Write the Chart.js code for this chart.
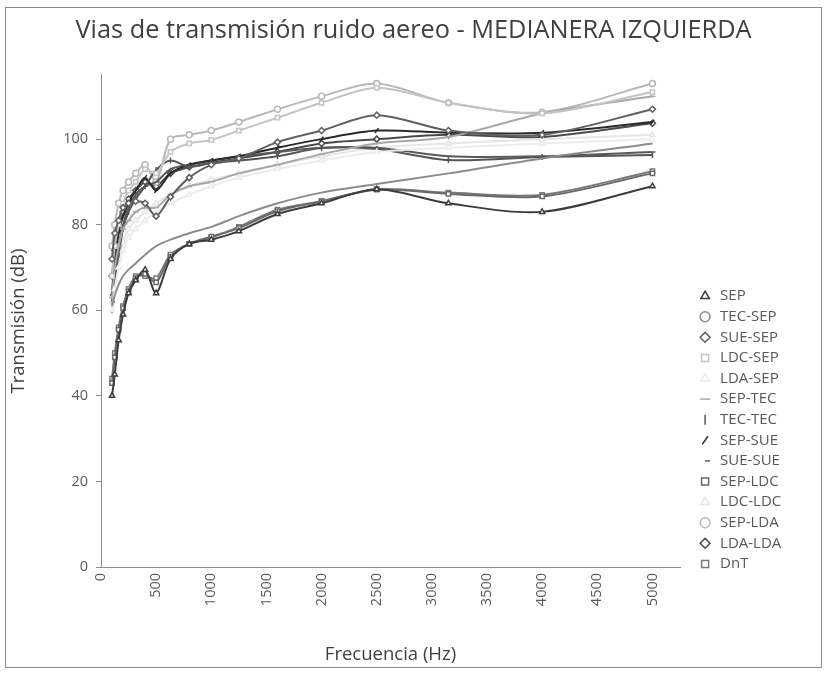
<!DOCTYPE html>
<html><head><meta charset="utf-8">
<script src="https://cdn.jsdelivr.net/npm/chart.js@4/dist/chart.umd.min.js"></script>
<style>html,body{margin:0;padding:0;background:#fff}</style>
</head><body>
<canvas id="c" width="833" height="674"></canvas>
<script>
// ---- data ----
const freqs = [100,125,160,200,250,315,400,500,630,800,1000,1250,1600,2000,2500,3150,4000,5000];
const xTicks = [0,500,1000,1500,2000,2500,3000,3500,4000,4500,5000];
const yTicks = [0,20,40,60,80,100];
const seriesNames = ['SEP','TEC-SEP','SUE-SEP','LDC-SEP','LDA-SEP','SEP-TEC','TEC-TEC','SEP-SUE','SUE-SUE','SEP-LDC','LDC-LDC','SEP-LDA','LDA-LDA','DnT'];
const sep    = [40,45,53,59,64,67,69.5,64,72,75.5,76.5,78.5,82.5,85,88.3,85,83,89];
const tecSep = [61,63.5,66,68,69.5,71,73,75,76.5,78,79.5,82,85,87.5,89.5,92,95.5,99];
const sueSep = [72,78,81,84,85,85.5,85,82,86.5,91,94,95.5,99.3,102,105.6,102,101,107];
const ldcSep = [68,75,80,85,88,90,93,92,97,99,99.8,102,105,108.5,112,108.5,106,111];
const ldaSep = [60,65,70,74,77,79,81,83,85,87,89,91,93,95,97,98,99,100];
const sepTec = [63,70,75,79,81,83,84,84,87,89,90,92,94,96.5,99,100.5,106,110];
const tecTec = [60,67,73,79,83,86,89,92.8,95,93.5,94.4,95,96,97.9,97.7,95.1,95.8,96.3];
const sepSue = [64,72,78,82,85,88,91,88,92,94,95,96,98,100,102,101.5,101.5,104];
const sueSue = [62,69,75,80,84,87,89,90,93,94,95,96,97,98,98,96,96,97];
const sepLdc = [43,49,55.5,60.5,64.5,67.5,68.5,66.5,72.5,75.5,77.2,79.2,83.2,85.5,88.2,87.2,86.6,92];
const ldcLdc = [62,67,72,76,79,81,83,85,87,89,90.5,92,94,96,98,99,100,101];
const sepLda = [75,80,85,88,90,92,94,90,100,101,102,104,107,110,113,108.5,106.3,113];
const ldaLda = [68,74,79,83,86,88,90,89,92,93.5,94.5,95.5,97,99,100,101,100.5,103.7];
const dnt    = [44,50,56,61,65,68,68,67.5,73,75.5,77,79.5,83.5,85.5,88.3,87.5,87,92.5];

const seriesValues = [sep,tecSep,sueSep,ldcSep,ldaSep,sepTec,tecTec,sepSue,sueSue,sepLdc,ldcLdc,sepLda,ldaLda,dnt];
const seriesColors = ['#3c3c3c','#8c8c8c','#606060','#c4c4c4','#ececec','#a8a8a8','#555555','#2a2a2a','#5a5a5a','#6a6a6a','#e6e6e6','#b8b8b8','#4a4a4a','#7a7a7a'];
const seriesMarkers = ['triangle','circle','rectRot','rect','triangle','line','line','line','dash','rect','triangle','circle','rectRot','rect'];
const seriesMarkerRot = [0,0,0,0,0,0,90,-55,0,0,0,0,0,0];
const seriesMarkerSize = [3,0,3,3,3,3,3,3,3,3,3,3,3,3];

const FONT = '"Open Sans", "Noto Sans", sans-serif';
const datasets = seriesNames.map((name, i) => ({
  label: name,
  data: freqs.map((f, j) => ({x: f, y: seriesValues[i][j]})),
  borderColor: seriesColors[i],
  backgroundColor: '#ffffff',
  pointBackgroundColor: '#ffffff',
  pointBorderColor: seriesColors[i],
  pointStyle: seriesMarkers[i],
  pointRotation: seriesMarkerRot[i],
  pointRadius: seriesMarkerSize[i],
  pointBorderWidth: 1.5,
  borderWidth: 2,
  tension: 0.3,
  fill: false
}));

const frame = {
  id: 'frame',
  beforeDraw(chart) {
    const ctx = chart.ctx;
    ctx.save();
    ctx.fillStyle = '#fff';
    ctx.fillRect(0, 0, chart.width, chart.height);
    ctx.strokeStyle = '#8a8a8a';
    ctx.lineWidth = 1;
    ctx.strokeRect(5.5, 7.5, 816, 660);
    ctx.restore();
  }
};
const legendPlace = {
  id: 'legendPlace',
  afterInit(chart) {
    const lg = chart.legend;
    const orig = lg.fit.bind(lg);
    lg.fit = function () { orig(); this.width = 141; };
  },
  afterLayout(chart) {
    const lg = chart.legend;
    lg.left = 692; lg.right = 821;
    lg.top = 283; lg.bottom = 600;
  }
};
const xLabels = {
  id: 'xLabels',
  afterDraw(chart) {
    const xs = chart.scales.x, ctx = chart.ctx;
    ctx.save();
    ctx.font = '14.5px ' + FONT;
    ctx.fillStyle = '#595959';
    ctx.textAlign = 'right';
    ctx.textBaseline = 'middle';
    xTicks.forEach(v => {
      const px = xs.getPixelForValue(v);
      ctx.save();
      ctx.translate(px, xs.top + 6);
      ctx.rotate(-Math.PI / 2);
      ctx.fillText(String(v), 0, 0);
      ctx.restore();
    });
    ctx.restore();
  }
};

new Chart(document.getElementById('c'), {
  type: 'line',
  data: {datasets},
  plugins: [frame, legendPlace, xLabels],
  options: {
    responsive: false,
    devicePixelRatio: 1,
    animation: false,
    layout: {padding: {left: 6, right: 12, top: 6, bottom: 8}},
    plugins: {
      title: {
        display: true,
        text: 'Vias de transmisión ruido aereo - MEDIANERA IZQUIERDA',
        color: '#404040',
        font: {family: FONT, size: 25.3, weight: 'normal'},
        padding: {top: 9.5, bottom: 29.1}
      },
      legend: {
        position: 'right',
        align: 'start',
        fullSize: false,
        labels: {
          usePointStyle: true,
          boxHeight: 7,
          color: '#595959',
          font: {family: FONT, size: 15},
          padding: 5.6
        }
      },
      tooltip: {enabled: false}
    },
    scales: {
      x: {
        type: 'linear',
        min: 0, max: 5250,
        afterBuildTicks: s => { s.ticks = xTicks.map(v => ({value: v})); },
        afterFit: s => { s.height = 99; },
        ticks: {display: false},
        grid: {display: false},
        border: {display: true, color: '#8c8c8c', width: 1},
        title: {display: true, text: 'Frecuencia (Hz)', color: '#404040', font: {family: FONT, size: 18.5}, padding: {top: 4, bottom: 0}}
      },
      y: {
        type: 'linear',
        min: 0, max: 115,
        afterBuildTicks: s => { s.ticks = yTicks.map(v => ({value: v})); },
        afterFit: s => { s.width = 95; },
        ticks: {color: '#595959', font: {family: FONT, size: 14.5}, padding: 8},
        grid: {display: true, drawOnChartArea: false, drawTicks: true, tickLength: 5, color: '#8c8c8c'},
        border: {display: true, color: '#8c8c8c', width: 1},
        title: {display: true, text: 'Transmisión (dB)', color: '#404040', font: {family: FONT, size: 18.5}, padding: {top: 2, bottom: 4}}
      }
    }
  }
});
</script>
</body></html>
